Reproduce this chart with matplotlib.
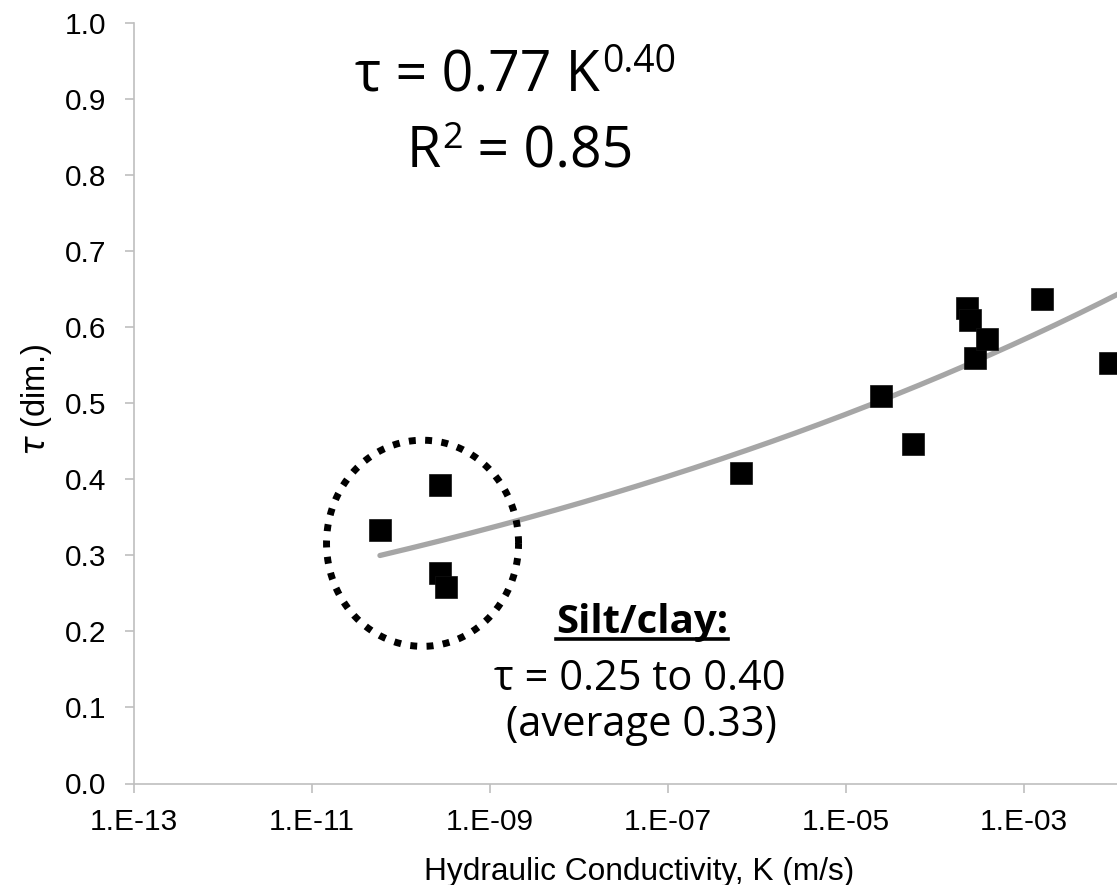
import numpy as np
import matplotlib
matplotlib.use("Agg")
import matplotlib.pyplot as plt
from matplotlib.lines import Line2D

# ---------------- data ----------------
K_values = [5.85e-11, 2.72e-10, 2.72e-10, 3.18e-10, 6.6e-07, 2.49e-05,
            5.64e-05, 2.28e-04, 2.46e-04, 2.81e-04, 3.82e-04, 1.58e-03, 9.3e-03]
tau_values = [0.333, 0.393, 0.277, 0.259, 0.409, 0.510,
              0.446, 0.625, 0.610, 0.560, 0.585, 0.637, 0.553]
trend_a = 0.77          # tau = a * K^b (fitted trend line)
trend_b = 0.04
trend_K_range = [5.8e-11, 1e-1]
x_ticks = [1e-13, 1e-11, 1e-9, 1e-7, 1e-5, 1e-3]
x_tick_labels = ["1.E-13", "1.E-11", "1.E-09", "1.E-07", "1.E-05", "1.E-03"]
y_ticks = [0.0, 0.1, 0.2, 0.3, 0.4, 0.5, 0.6, 0.7, 0.8, 0.9, 1.0]
# silt/clay highlight ellipse (log10 K centre, tau centre, radii)
circle_center = (-9.758, 0.316)
circle_radii = (1.079, 0.1356)

W, H = 1117, 885
plt.rcParams['mathtext.fontset'] = 'dejavusans'
fig = plt.figure(figsize=(W / 100, H / 100), dpi=100)
ax = fig.add_axes([134 / W, 1 - 783.5 / H, (W - 134) / W, (783.5 - 23.3) / H])

ax.set_xscale('log')
ax.set_xlim(1e-13, 10 ** (-13 + (W - 134) / 89.0))
ax.set_ylim(0, 1.0)

# trend line
kk = np.logspace(np.log10(trend_K_range[0]), np.log10(trend_K_range[1]), 300)
ax.plot(kk, trend_a * kk ** trend_b, color='#A6A6A6', lw=3.8,
        solid_capstyle='round', zorder=2)

# data
ax.plot(K_values, tau_values, linestyle='none', marker='s', markersize=16.5,
        color='black', markeredgewidth=0.5, markeredgecolor='#111111', zorder=3)

# dotted ellipse
t = np.linspace(0, 2 * np.pi, 400)
ex = 10 ** (circle_center[0] + circle_radii[0] * np.cos(t))
ey = circle_center[1] + circle_radii[1] * np.sin(t)
ax.plot(ex, ey, color='black', lw=5, dashes=(1.0, 1.35),
        dash_capstyle='butt', zorder=4)

# axes style
for s in ['top', 'right']:
    ax.spines[s].set_visible(False)
for s in ['left', 'bottom']:
    ax.spines[s].set_color('#BFBFBF')
    ax.spines[s].set_linewidth(1.2)
ax.set_xticks(x_ticks)
ax.set_xticklabels(x_tick_labels)
ax.xaxis.set_minor_locator(matplotlib.ticker.NullLocator())
ax.set_yticks(y_ticks)
ax.set_yticklabels([f"{v:.1f}" for v in y_ticks])
ax.tick_params(axis='both', direction='out', length=6.5, width=1.2,
               color='#BFBFBF', labelsize=21.5, labelcolor='black')
ax.tick_params(axis='y', pad=13.5)
ax.tick_params(axis='x', pad=11)
for lab in ax.get_xticklabels() + ax.get_yticklabels():
    lab.set_fontfamily('Liberation Sans')

ax.set_xlabel("Hydraulic Conductivity, K (m/s)", fontsize=22.8,
              family='Liberation Sans')
ax.xaxis.set_label_coords((639 - 134) / (W - 134), (783.5 - 880) / 760.2)
ax.xaxis.label.set_va('baseline')
ax.set_ylabel(r"$\tau$ (dim.)", fontsize=23.5, family='Liberation Sans')
ax.yaxis.set_label_coords((36 - 134) / (W - 134), (783.5 - 400) / 760.2)
ax.yaxis.label.set_va('center')

# ---------------- annotations ----------------
FAM = ['Open Sans', 'DejaVu Sans']


def fx(px):
    return px / W


def fy(py):
    return 1 - py / H


def chain(x_left, baseline, pieces):
    """pieces: list of (text, size, raise_px, gap_px, weight)"""
    x = x_left
    arts = []
    for txt, size, rse, gap, wt in pieces:
        a = fig.text(fx(x + gap), fy(baseline - rse), txt, ha='left',
                     va='baseline', fontsize=size, family=FAM, weight=wt)
        fig.canvas.draw()
        bb = a.get_window_extent()
        x = bb.x1
        arts.append(a)
    return arts


chain(355, 91, [("τ = 0.77 K", 40, 0, 0, 'normal'),
                ("0.40", 27, 19, 2, 'normal')])
chain(407, 167, [("R", 40, 0, 0, 'normal'),
                 ("2", 26, 19, 1, 'normal'),
                 (" = 0.85", 40, 0, 0, 'normal')])

st = fig.text(fx(642), fy(633), "Silt/clay:", ha='center', va='baseline',
              fontsize=29, family=FAM, weight='bold')
fig.canvas.draw()
bb = st.get_window_extent()
fig.add_artist(Line2D([bb.x0 / W, bb.x1 / W], [fy(639), fy(639)],
                      transform=fig.transFigure, color='black', lw=2.6))
fig.text(fx(640), fy(690), "τ = 0.25 to 0.40", ha='center', va='baseline',
         fontsize=30, family=FAM)
fig.text(fx(641), fy(736), "(average 0.33)", ha='center', va='baseline',
         fontsize=30, family=FAM)

fig.savefig("out.png", dpi=100)
